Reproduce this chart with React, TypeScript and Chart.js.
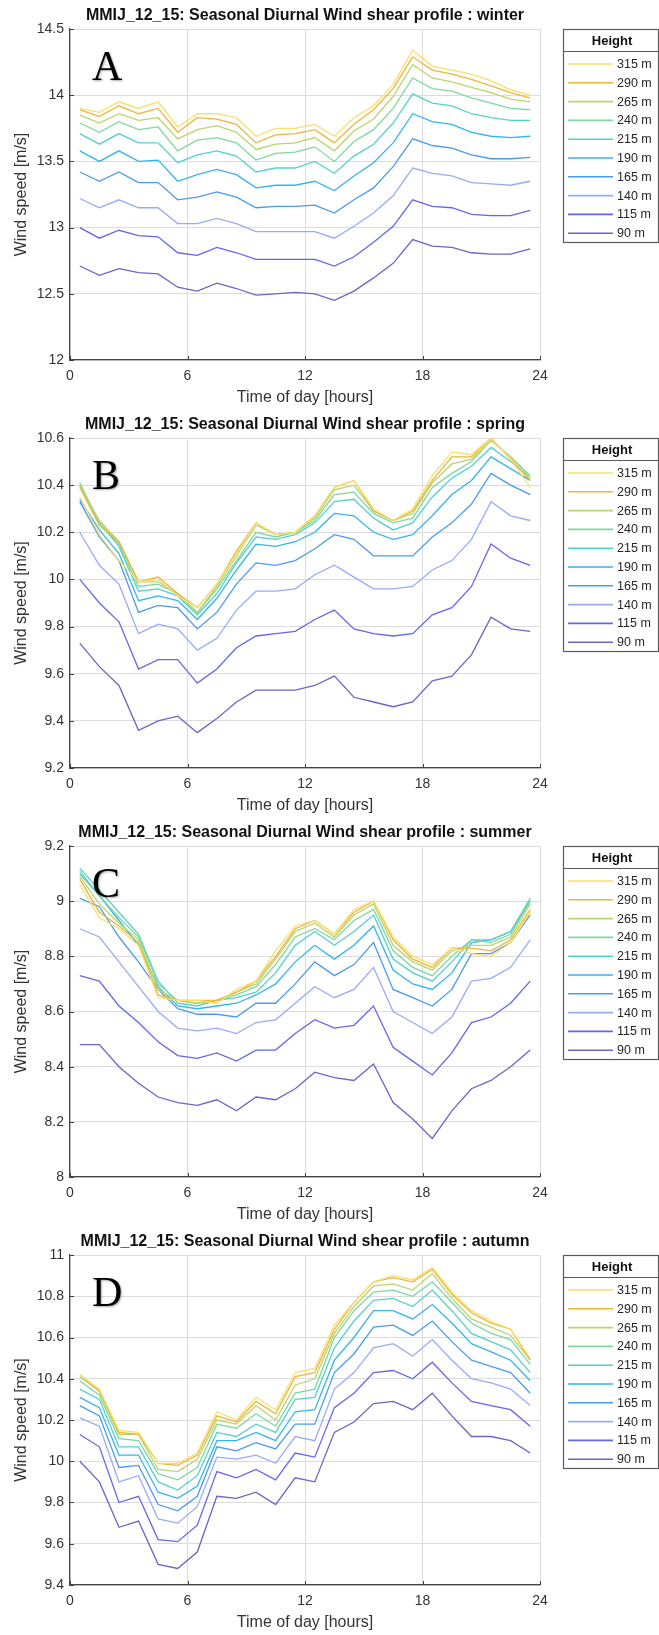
import React, { useEffect, useRef } from "react";
import { Chart, registerables } from "chart.js";

Chart.register(...registerables);

// ---------------- data ----------------
const hours = [0.5, 1.5, 2.5, 3.5, 4.5, 5.5, 6.5, 7.5, 8.5, 9.5, 10.5, 11.5, 12.5, 13.5, 14.5, 15.5, 16.5, 17.5, 18.5, 19.5, 20.5, 21.5, 22.5, 23.5];
const heightLabels = ["315 m", "290 m", "265 m", "240 m", "215 m", "190 m", "165 m", "140 m", "115 m", "90 m"];
const lineColors = ["#f8df6c", "#eeb53c", "#b8d66c", "#7ed8a2", "#55d1cb", "#34b5ee", "#4a9bf0", "#97abf7", "#6466ee", "#6f62c8"];
const xTicks = [0, 6, 12, 18, 24];

const seasonNames = ["winter", "spring", "summer", "autumn"];
const panelLetters = ["A", "B", "C", "D"];

const winterTicks = [12, 12.5, 13, 13.5, 14, 14.5];
const springTicks = [9.2, 9.4, 9.6, 9.8, 10, 10.2, 10.4, 10.6];
const summerTicks = [8, 8.2, 8.4, 8.6, 8.8, 9, 9.2];
const autumnTicks = [9.4, 9.6, 9.8, 10, 10.2, 10.4, 10.6, 10.8, 11];

// winter
const w315 = [13.90, 13.87, 13.95, 13.90, 13.95, 13.76, 13.86, 13.86, 13.83, 13.69, 13.75, 13.75, 13.78, 13.69, 13.83, 13.92, 14.08, 14.34, 14.22, 14.19, 14.16, 14.11, 14.04, 14.00];
const w290 = [13.89, 13.84, 13.92, 13.86, 13.90, 13.72, 13.83, 13.82, 13.78, 13.64, 13.70, 13.71, 13.74, 13.64, 13.78, 13.89, 14.05, 14.29, 14.19, 14.16, 14.12, 14.07, 14.02, 13.98];
const w265 = [13.85, 13.79, 13.86, 13.81, 13.83, 13.67, 13.74, 13.77, 13.72, 13.59, 13.63, 13.64, 13.68, 13.58, 13.73, 13.82, 13.99, 14.23, 14.13, 14.10, 14.06, 14.02, 13.97, 13.95];
const w240 = [13.79, 13.72, 13.80, 13.74, 13.76, 13.58, 13.66, 13.68, 13.64, 13.51, 13.56, 13.57, 13.61, 13.50, 13.65, 13.74, 13.90, 14.13, 14.05, 14.03, 13.98, 13.94, 13.90, 13.89];
const w215 = [13.71, 13.63, 13.71, 13.64, 13.64, 13.49, 13.55, 13.58, 13.54, 13.42, 13.45, 13.45, 13.50, 13.41, 13.54, 13.63, 13.79, 14.01, 13.94, 13.92, 13.86, 13.83, 13.81, 13.81];
const w190 = [13.58, 13.50, 13.58, 13.50, 13.51, 13.35, 13.40, 13.44, 13.40, 13.30, 13.32, 13.32, 13.35, 13.28, 13.39, 13.49, 13.64, 13.86, 13.80, 13.78, 13.72, 13.69, 13.68, 13.69];
const w165 = [13.42, 13.35, 13.42, 13.34, 13.34, 13.21, 13.23, 13.27, 13.23, 13.15, 13.16, 13.16, 13.17, 13.11, 13.21, 13.30, 13.46, 13.67, 13.62, 13.60, 13.55, 13.52, 13.52, 13.53];
const w140 = [13.22, 13.15, 13.21, 13.15, 13.15, 13.03, 13.03, 13.07, 13.03, 12.97, 12.97, 12.97, 12.97, 12.92, 13.01, 13.11, 13.24, 13.45, 13.41, 13.39, 13.34, 13.33, 13.32, 13.35];
const w115 = [13.00, 12.92, 12.98, 12.94, 12.93, 12.81, 12.79, 12.85, 12.81, 12.76, 12.76, 12.76, 12.76, 12.71, 12.78, 12.89, 13.01, 13.21, 13.16, 13.15, 13.10, 13.09, 13.09, 13.13];
const w90 = [12.71, 12.64, 12.69, 12.66, 12.65, 12.55, 12.52, 12.58, 12.54, 12.49, 12.50, 12.51, 12.50, 12.45, 12.52, 12.62, 12.73, 12.91, 12.86, 12.85, 12.81, 12.80, 12.80, 12.84];

// spring
const s315 = [10.35, 10.19, 10.08, 9.99, 10.00, 9.93, 9.88, 9.98, 10.11, 10.24, 10.19, 10.20, 10.27, 10.39, 10.42, 10.30, 10.25, 10.30, 10.44, 10.54, 10.53, 10.60, 10.51, 10.39];
const s290 = [10.39, 10.23, 10.16, 9.99, 10.01, 9.94, 9.88, 9.98, 10.12, 10.24, 10.19, 10.20, 10.27, 10.39, 10.42, 10.29, 10.25, 10.29, 10.42, 10.52, 10.52, 10.60, 10.51, 10.42];
const s265 = [10.40, 10.25, 10.16, 9.99, 9.99, 9.94, 9.86, 9.97, 10.10, 10.23, 10.19, 10.20, 10.26, 10.38, 10.40, 10.29, 10.25, 10.28, 10.41, 10.49, 10.51, 10.59, 10.52, 10.43];
const s240 = [10.41, 10.24, 10.15, 9.97, 9.98, 9.94, 9.86, 9.96, 10.08, 10.20, 10.18, 10.20, 10.25, 10.36, 10.37, 10.28, 10.24, 10.26, 10.39, 10.45, 10.50, 10.59, 10.52, 10.44];
const s215 = [10.40, 10.24, 10.14, 9.95, 9.96, 9.93, 9.85, 9.94, 10.07, 10.18, 10.17, 10.19, 10.24, 10.33, 10.34, 10.26, 10.21, 10.24, 10.35, 10.43, 10.48, 10.56, 10.50, 10.43];
const s190 = [10.34, 10.21, 10.11, 9.91, 9.93, 9.91, 9.83, 9.92, 10.04, 10.15, 10.14, 10.16, 10.20, 10.28, 10.27, 10.20, 10.17, 10.19, 10.27, 10.36, 10.42, 10.52, 10.47, 10.42];
const s165 = [10.33, 10.18, 10.08, 9.86, 9.89, 9.88, 9.79, 9.86, 9.98, 10.07, 10.06, 10.08, 10.13, 10.19, 10.17, 10.10, 10.10, 10.10, 10.18, 10.24, 10.32, 10.45, 10.40, 10.36];
const s140 = [10.20, 10.06, 9.98, 9.77, 9.81, 9.79, 9.70, 9.75, 9.87, 9.95, 9.95, 9.96, 10.02, 10.06, 10.01, 9.96, 9.96, 9.97, 10.04, 10.08, 10.17, 10.33, 10.27, 10.25];
const s115 = [10.00, 9.90, 9.82, 9.62, 9.66, 9.66, 9.56, 9.62, 9.71, 9.76, 9.77, 9.78, 9.83, 9.87, 9.79, 9.77, 9.76, 9.77, 9.85, 9.88, 9.97, 10.15, 10.09, 10.06];
const s90 = [9.73, 9.63, 9.55, 9.36, 9.40, 9.42, 9.35, 9.41, 9.48, 9.53, 9.53, 9.53, 9.55, 9.59, 9.50, 9.48, 9.46, 9.48, 9.57, 9.59, 9.68, 9.84, 9.79, 9.78];

// summer
const c315 = [9.06, 8.94, 8.90, 8.84, 8.65, 8.64, 8.64, 8.63, 8.68, 8.71, 8.82, 8.91, 8.93, 8.88, 8.97, 9.00, 8.87, 8.80, 8.77, 8.83, 8.81, 8.80, 8.85, 8.96];
const c290 = [9.08, 8.96, 8.91, 8.85, 8.66, 8.64, 8.64, 8.64, 8.67, 8.71, 8.80, 8.90, 8.93, 8.88, 8.96, 9.00, 8.86, 8.79, 8.76, 8.83, 8.83, 8.82, 8.86, 8.97];
const c265 = [9.09, 8.99, 8.92, 8.86, 8.68, 8.64, 8.63, 8.64, 8.67, 8.70, 8.79, 8.89, 8.92, 8.87, 8.95, 8.99, 8.84, 8.78, 8.75, 8.82, 8.84, 8.84, 8.87, 8.99];
const c240 = [9.11, 9.02, 8.94, 8.87, 8.70, 8.64, 8.63, 8.64, 8.66, 8.69, 8.77, 8.87, 8.90, 8.86, 8.93, 8.97, 8.82, 8.76, 8.73, 8.80, 8.86, 8.85, 8.88, 9.00];
const c215 = [9.12, 9.04, 8.96, 8.88, 8.71, 8.63, 8.62, 8.64, 8.65, 8.67, 8.74, 8.84, 8.89, 8.84, 8.89, 8.95, 8.79, 8.74, 8.71, 8.78, 8.86, 8.86, 8.89, 9.01];
const c190 = [9.10, 9.02, 8.93, 8.84, 8.69, 8.62, 8.61, 8.62, 8.63, 8.66, 8.70, 8.78, 8.84, 8.79, 8.84, 8.91, 8.75, 8.70, 8.68, 8.74, 8.85, 8.86, 8.89, 9.00];
const c165 = [9.01, 8.98, 8.87, 8.78, 8.68, 8.61, 8.59, 8.59, 8.58, 8.63, 8.63, 8.70, 8.78, 8.73, 8.77, 8.85, 8.68, 8.65, 8.62, 8.68, 8.81, 8.81, 8.85, 8.95];
const c140 = [8.90, 8.87, 8.78, 8.69, 8.60, 8.54, 8.53, 8.54, 8.52, 8.56, 8.57, 8.63, 8.69, 8.65, 8.68, 8.76, 8.60, 8.56, 8.52, 8.58, 8.71, 8.72, 8.76, 8.86];
const c115 = [8.73, 8.71, 8.62, 8.56, 8.49, 8.44, 8.43, 8.45, 8.42, 8.46, 8.46, 8.52, 8.57, 8.54, 8.55, 8.62, 8.47, 8.42, 8.37, 8.45, 8.56, 8.58, 8.63, 8.71];
const c90 = [8.48, 8.48, 8.40, 8.34, 8.29, 8.27, 8.26, 8.28, 8.24, 8.29, 8.28, 8.32, 8.38, 8.36, 8.35, 8.41, 8.27, 8.21, 8.14, 8.24, 8.32, 8.35, 8.40, 8.46];

// autumn
const d315 = [10.42, 10.35, 10.15, 10.14, 9.99, 9.99, 10.04, 10.24, 10.20, 10.31, 10.25, 10.43, 10.45, 10.66, 10.77, 10.87, 10.90, 10.88, 10.94, 10.82, 10.73, 10.68, 10.64, 10.50];
const d290 = [10.42, 10.34, 10.14, 10.13, 9.99, 9.98, 10.03, 10.22, 10.19, 10.29, 10.23, 10.41, 10.43, 10.64, 10.77, 10.87, 10.89, 10.87, 10.93, 10.81, 10.72, 10.67, 10.64, 10.49];
const d265 = [10.41, 10.34, 10.13, 10.13, 9.96, 9.95, 10.01, 10.20, 10.18, 10.27, 10.20, 10.37, 10.40, 10.62, 10.75, 10.85, 10.86, 10.83, 10.91, 10.79, 10.69, 10.65, 10.61, 10.49];
const d240 = [10.39, 10.32, 10.11, 10.10, 9.94, 9.91, 9.97, 10.18, 10.16, 10.23, 10.17, 10.33, 10.35, 10.60, 10.73, 10.82, 10.83, 10.80, 10.87, 10.77, 10.67, 10.62, 10.59, 10.47];
const d215 = [10.35, 10.30, 10.07, 10.07, 9.90, 9.86, 9.93, 10.14, 10.12, 10.18, 10.14, 10.30, 10.31, 10.55, 10.68, 10.78, 10.79, 10.75, 10.83, 10.73, 10.62, 10.58, 10.54, 10.43];
const d190 = [10.31, 10.26, 10.03, 10.03, 9.85, 9.82, 9.88, 10.10, 10.10, 10.14, 10.10, 10.24, 10.25, 10.49, 10.60, 10.73, 10.73, 10.69, 10.76, 10.67, 10.57, 10.53, 10.49, 10.39];
const d165 = [10.27, 10.22, 9.97, 9.98, 9.79, 9.76, 9.83, 10.07, 10.05, 10.09, 10.06, 10.18, 10.18, 10.43, 10.52, 10.65, 10.66, 10.61, 10.68, 10.58, 10.49, 10.46, 10.43, 10.33];
const d140 = [10.21, 10.17, 9.90, 9.93, 9.72, 9.70, 9.78, 10.02, 10.01, 10.03, 9.99, 10.12, 10.10, 10.35, 10.43, 10.55, 10.57, 10.51, 10.59, 10.49, 10.40, 10.38, 10.35, 10.27];
const d115 = [10.13, 10.07, 9.80, 9.83, 9.62, 9.61, 9.69, 9.95, 9.92, 9.96, 9.91, 10.04, 10.02, 10.26, 10.33, 10.43, 10.44, 10.40, 10.48, 10.38, 10.29, 10.27, 10.25, 10.17];
const d90 = [10.00, 9.90, 9.68, 9.71, 9.50, 9.48, 9.56, 9.83, 9.82, 9.85, 9.79, 9.92, 9.90, 10.14, 10.19, 10.28, 10.29, 10.25, 10.33, 10.22, 10.12, 10.12, 10.10, 10.04];

const winterSeries = [w315, w290, w265, w240, w215, w190, w165, w140, w115, w90];
const springSeries = [s315, s290, s265, s240, s215, s190, s165, s140, s115, s90];
const summerSeries = [c315, c290, c265, c240, c215, c190, c165, c140, c115, c90];
const autumnSeries = [d315, d290, d265, d240, d215, d190, d165, d140, d115, d90];

// ---------------- layout ----------------
const PAGE_W = 659;
const PLOT_LEFT = 70;
const PLOT_RIGHT = 540;
const SANS = "'Liberation Sans', Arial, Helvetica, sans-serif";
const SERIF = "'Liberation Serif', 'Times New Roman', serif";

// canvases overlap slightly (they are transparent) so no text gets clipped
const panelGeom = [
  { canvasTop: 0, height: 420, plotTop: 29, plotBottom: 360 },
  { canvasTop: 405, height: 420, plotTop: 33, plotBottom: 363 },
  { canvasTop: 812, height: 420, plotTop: 34, plotBottom: 365 },
  { canvasTop: 1220, height: 415, plotTop: 35, plotBottom: 365 },
];

function fmt(v: number) {
  return String(Number(Number(v).toFixed(2)));
}

function Panel({ index, series, yTicks }: { index: number; series: number[][]; yTicks: number[] }) {
  const ref = useRef<HTMLCanvasElement | null>(null);
  const g = panelGeom[index];

  useEffect(() => {
    const canvas = ref.current;
    if (!canvas) return;

    const decor = {
      id: "decor",
      afterDraw(chart: any) {
        const ctx = chart.ctx as CanvasRenderingContext2D;
        const area = chart.chartArea;
        const xs = chart.scales.x;
        const ys = chart.scales.y;
        ctx.save();

        // inward tick marks
        ctx.strokeStyle = "#404040";
        ctx.lineWidth = 1;
        ctx.beginPath();
        for (const t of xTicks) {
          const px = Math.round(xs.getPixelForValue(t)) + 0.5;
          ctx.moveTo(px, area.bottom);
          ctx.lineTo(px, area.bottom - 4);
        }
        for (const t of yTicks) {
          const py = Math.round(ys.getPixelForValue(t)) + 0.5;
          ctx.moveTo(area.left, py);
          ctx.lineTo(area.left + 4, py);
        }
        ctx.stroke();

        // title
        ctx.fillStyle = "#111";
        ctx.font = `bold 16px ${SANS}`;
        ctx.textAlign = "center";
        ctx.textBaseline = "middle";
        ctx.fillText(
          `MMIJ_12_15: Seasonal Diurnal Wind shear profile : ${seasonNames[index]}`,
          (area.left + area.right) / 2,
          area.top - 13
        );

        // axis titles
        ctx.fillStyle = "#333";
        ctx.font = `16px ${SANS}`;
        ctx.fillText("Time of day [hours]", (area.left + area.right) / 2, area.bottom + 38);
        ctx.save();
        ctx.translate(22, (area.top + area.bottom) / 2);
        ctx.rotate(-Math.PI / 2);
        ctx.fillText("Wind speed [m/s]", 0, 0);
        ctx.restore();

        // panel letter
        ctx.save();
        ctx.fillStyle = "#000";
        ctx.shadowColor = "rgba(0,0,0,0.35)";
        ctx.shadowBlur = 2;
        ctx.shadowOffsetX = 1;
        ctx.shadowOffsetY = 1;
        ctx.font = `42px ${SERIF}`;
        ctx.textAlign = "left";
        ctx.textBaseline = "alphabetic";
        ctx.fillText(panelLetters[index], 92, area.top + 51);
        ctx.restore();

        // legend
        const lx = 563.5;
        const ly = area.top + 0.5;
        const lw = 95;
        const lh = 213;
        ctx.fillStyle = "#fff";
        ctx.fillRect(lx, ly, lw, lh);
        ctx.strokeStyle = "#5a5a5a";
        ctx.lineWidth = 1.2;
        ctx.strokeRect(lx, ly, lw, lh);
        ctx.beginPath();
        ctx.moveTo(lx, ly + 22);
        ctx.lineTo(lx + lw, ly + 22);
        ctx.stroke();
        ctx.fillStyle = "#111";
        ctx.font = `bold 13px ${SANS}`;
        ctx.textAlign = "center";
        ctx.textBaseline = "middle";
        ctx.fillText("Height", 612, area.top + 12);
        ctx.font = `12.5px ${SANS}`;
        ctx.textAlign = "left";
        heightLabels.forEach((lab, i) => {
          const yy = area.top + 35 + i * 18.8;
          ctx.strokeStyle = lineColors[i];
          ctx.lineWidth = 1.6;
          ctx.beginPath();
          ctx.moveTo(568, yy);
          ctx.lineTo(613, yy);
          ctx.stroke();
          ctx.fillStyle = "#262626";
          ctx.fillText(lab, 617, yy + 0.5);
        });

        ctx.restore();
      },
    };

    const chart = new Chart(canvas, {
      type: "line",
      data: {
        datasets: series.map((arr, i) => ({
          label: heightLabels[i],
          data: hours.map((h, k) => ({ x: h, y: arr[k] })),
          borderColor: lineColors[i],
          backgroundColor: lineColors[i],
          borderWidth: 1.3,
          pointRadius: 0,
          tension: 0,
          fill: false,
        })),
      },
      options: {
        responsive: false,
        animation: false,
        devicePixelRatio: 1,
        events: [],
        layout: {
          padding: {
            left: 0,
            right: PAGE_W - PLOT_RIGHT,
            top: g.plotTop,
            bottom: g.height - g.plotBottom - 40,
          },
        },
        plugins: {
          legend: { display: false },
          title: { display: false },
          tooltip: { enabled: false },
        },
        scales: {
          x: {
            type: "linear",
            min: 0,
            max: 24,
            afterFit: (s: any) => {
              s.height = 40;
            },
            afterBuildTicks: (s: any) => {
              s.ticks = xTicks.map((v) => ({ value: v }));
            },
            grid: { color: "#dcdcdc", drawTicks: false, lineWidth: 1 },
            border: { display: true, color: "#444", width: 1.2 },
            ticks: {
              padding: 8,
              autoSkip: false,
              maxRotation: 0,
              color: "#333",
              font: { family: SANS, size: 14 },
              callback: (v: any) => fmt(v),
            },
          },
          y: {
            type: "linear",
            min: yTicks[0],
            max: yTicks[yTicks.length - 1],
            afterFit: (s: any) => {
              s.width = PLOT_LEFT;
            },
            afterBuildTicks: (s: any) => {
              s.ticks = yTicks.map((v) => ({ value: v }));
            },
            grid: { color: "#dcdcdc", drawTicks: false, lineWidth: 1 },
            border: { display: true, color: "#444", width: 1.2 },
            ticks: {
              padding: 6,
              autoSkip: false,
              color: "#333",
              font: { family: SANS, size: 14 },
              callback: (v: any) => fmt(v),
            },
          },
        },
      },
      plugins: [decor],
    } as any);

    return () => chart.destroy();
  }, [index, series, yTicks]);

  return (
    <canvas
      ref={ref}
      width={PAGE_W}
      height={g.height}
      style={{ position: "absolute", left: 0, top: g.canvasTop, width: PAGE_W, height: g.height, display: "block" }}
    />
  );
}

export default function App() {
  return (
    <div style={{ position: "absolute", left: 0, top: 0, width: PAGE_W, height: 1635, background: "#fff", overflow: "hidden" }}>
      <Panel index={0} series={winterSeries} yTicks={winterTicks} />
      <Panel index={1} series={springSeries} yTicks={springTicks} />
      <Panel index={2} series={summerSeries} yTicks={summerTicks} />
      <Panel index={3} series={autumnSeries} yTicks={autumnTicks} />
    </div>
  );
}
